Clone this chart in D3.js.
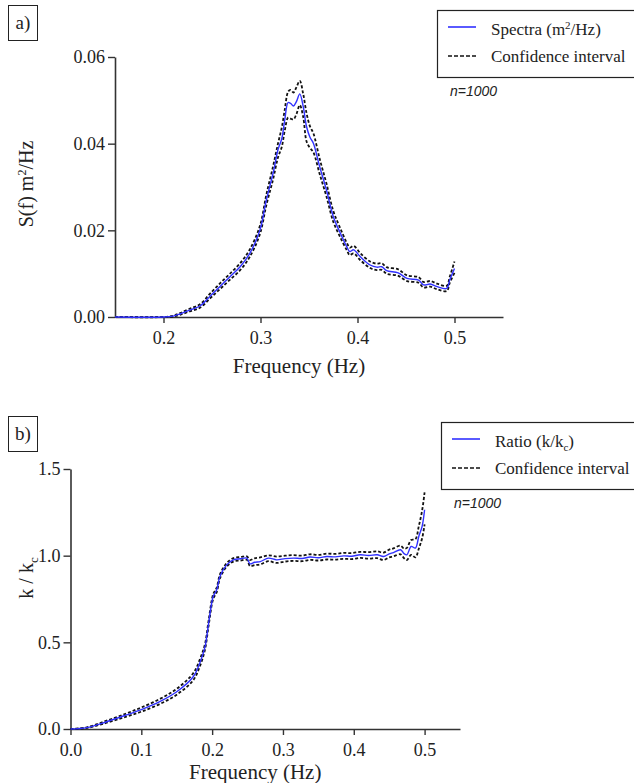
<!DOCTYPE html>
<html>
<head>
<meta charset="utf-8">
<script src="https://cdn.jsdelivr.net/npm/d3@7"></script>
<style>
  body { margin: 0; background: #fff; }
</style>
</head>
<body>
<svg id="chart" width="634" height="783"></svg>
<script>
// panel a - spectrum
var freqA    = [0.150, 0.200, 0.210, 0.217, 0.227, 0.238, 0.248, 0.258, 0.268, 0.279, 0.289, 0.2995, 0.306, 0.313, 0.318, 0.322, 0.325, 0.3285, 0.331, 0.334, 0.337, 0.3405, 0.344, 0.3475, 0.351, 0.3545, 0.361, 0.368, 0.375, 0.382, 0.389, 0.392, 0.396, 0.403, 0.413, 0.420, 0.425, 0.430, 0.442, 0.451, 0.463, 0.468, 0.475, 0.482, 0.492, 0.495, 0.500];
var spectra  = [0, 0, 0.0002, 0.0007, 0.0016, 0.0026, 0.0048, 0.0070, 0.0092, 0.0116, 0.0147, 0.0201, 0.0270, 0.0332, 0.0386, 0.0412, 0.0455, 0.0495, 0.0493, 0.0487, 0.0497, 0.0515, 0.0486, 0.0439, 0.0415, 0.0401, 0.0347, 0.0293, 0.0232, 0.0195, 0.0162, 0.0151, 0.0155, 0.0139, 0.0120, 0.0115, 0.0116, 0.0107, 0.0102, 0.0089, 0.0085, 0.0074, 0.0076, 0.0070, 0.0066, 0.0085, 0.0112];
var spectraLo = [0, 0, 0.0001, 0.0005, 0.0013, 0.0022, 0.0043, 0.0064, 0.0085, 0.0108, 0.0139, 0.0192, 0.0258, 0.0318, 0.0368, 0.0393, 0.0430, 0.0460, 0.0458, 0.0456, 0.0468, 0.0489, 0.0462, 0.0405, 0.0390, 0.0380, 0.0330, 0.0278, 0.0220, 0.0185, 0.0154, 0.0143, 0.0147, 0.0131, 0.0113, 0.0108, 0.0109, 0.0100, 0.0095, 0.0083, 0.0079, 0.0068, 0.0070, 0.0064, 0.0060, 0.0078, 0.0102];
var spectraHi = [0, 0, 0.0003, 0.0009, 0.0019, 0.0030, 0.0054, 0.0077, 0.0099, 0.0124, 0.0156, 0.0211, 0.0282, 0.0348, 0.0400, 0.0438, 0.0478, 0.0520, 0.0524, 0.0518, 0.0530, 0.0545, 0.0515, 0.0470, 0.0440, 0.0424, 0.0365, 0.0308, 0.0245, 0.0206, 0.0171, 0.0160, 0.0164, 0.0147, 0.0128, 0.0123, 0.0124, 0.0115, 0.0110, 0.0096, 0.0092, 0.0081, 0.0083, 0.0077, 0.0072, 0.0092, 0.0128];
var xTicksA = [0.2, 0.3, 0.4, 0.5];
var yTicksA = [0, 0.02, 0.04, 0.06];

// panel b - ratio k/kc
var freqB   = [0.000, 0.023, 0.051, 0.079, 0.100, 0.126, 0.150, 0.173, 0.183, 0.190, 0.195, 0.2015, 0.2065, 0.211, 0.2205, 0.230, 0.240, 0.249, 0.2535, 0.260, 0.268, 0.2795, 0.291, 0.303, 0.315, 0.327, 0.3385, 0.350, 0.362, 0.374, 0.3855, 0.397, 0.409, 0.421, 0.433, 0.442, 0.450, 0.456, 0.466, 0.471, 0.475, 0.481, 0.487, 0.4918, 0.4965, 0.500];
var ratio   = [0.000, 0.008, 0.042, 0.081, 0.112, 0.158, 0.215, 0.300, 0.385, 0.475, 0.610, 0.764, 0.803, 0.880, 0.947, 0.976, 0.982, 0.986, 0.953, 0.962, 0.966, 0.986, 0.976, 0.983, 0.986, 0.984, 0.992, 0.988, 0.995, 0.993, 0.999, 0.997, 1.005, 1.001, 1.005, 0.995, 1.010, 1.018, 1.034, 1.012, 1.005, 1.053, 1.044, 1.111, 1.169, 1.265];
var ratioLo = [0.000, 0.006, 0.036, 0.072, 0.100, 0.144, 0.198, 0.280, 0.365, 0.460, 0.595, 0.750, 0.790, 0.868, 0.937, 0.966, 0.972, 0.976, 0.940, 0.945, 0.950, 0.968, 0.958, 0.966, 0.970, 0.968, 0.976, 0.972, 0.978, 0.977, 0.982, 0.980, 0.987, 0.983, 0.986, 0.975, 0.990, 0.996, 1.008, 0.985, 0.975, 1.005, 0.990, 1.040, 1.100, 1.180];
var ratioHi = [0.000, 0.010, 0.048, 0.090, 0.124, 0.173, 0.232, 0.320, 0.405, 0.492, 0.625, 0.778, 0.816, 0.892, 0.957, 0.986, 0.992, 0.996, 0.975, 0.985, 0.990, 1.002, 0.995, 1.000, 1.003, 1.000, 1.008, 1.004, 1.012, 1.010, 1.016, 1.015, 1.022, 1.020, 1.025, 1.018, 1.035, 1.042, 1.058, 1.040, 1.045, 1.090, 1.095, 1.170, 1.260, 1.365];
var xTicksB = [0, 0.1, 0.2, 0.3, 0.4, 0.5];
var yTicksB = [0, 0.5, 1.0, 1.5];

var svg = d3.select("#chart");
var blue = "#3030ff";
var serif = "'Liberation Serif', Tinos, 'Times New Roman', 'DejaVu Serif', serif";

function drawPanel(opt) {
  var x = d3.scaleLinear().domain(opt.xDomain).range([opt.left, opt.right]);
  var y = d3.scaleLinear().domain(opt.yDomain).range([opt.bottom, opt.top]);

  var g = svg.append("g").attr("font-family", serif).attr("fill", "#222");

  // axes
  var xAxis = g.append("g")
      .attr("transform", "translate(0," + opt.bottom + ")")
      .call(d3.axisBottom(x).tickValues(opt.xTicks).tickFormat(d3.format(opt.xFmt)).tickSize(6).tickSizeOuter(0));
  var yAxis = g.append("g")
      .attr("transform", "translate(" + opt.left + ",0)")
      .call(d3.axisLeft(y).tickValues(opt.yTicks).tickFormat(d3.format(opt.yFmt)).tickSize(7).tickSizeOuter(0));
  [xAxis, yAxis].forEach(function (a) {
    a.attr("font-family", serif).attr("font-size", 18);
    a.select(".domain").attr("stroke", "#333").attr("stroke-width", 1.6);
    a.selectAll(".tick line").attr("stroke", "#333").attr("stroke-width", 1.4);
    a.selectAll(".tick text").attr("fill", "#222");
  });
  xAxis.selectAll(".tick text").attr("dy", "1.0em");

  function line(vals) {
    return d3.line()
      .x(function (d, i) { return x(opt.freq[i]); })
      .y(function (d) { return y(d); })
      .curve(d3.curveCatmullRom)(vals);
  }

  g.append("path").attr("d", line(opt.lo))
    .attr("fill", "none").attr("stroke", "#111").attr("stroke-width", 1.8).attr("stroke-dasharray", "3,2");
  g.append("path").attr("d", line(opt.hi))
    .attr("fill", "none").attr("stroke", "#111").attr("stroke-width", 1.8).attr("stroke-dasharray", "3,2");
  g.append("path").attr("d", line(opt.main))
    .attr("fill", "none").attr("stroke", blue).attr("stroke-width", 1.4);

  // panel letter box
  g.append("rect").attr("x", 8.5).attr("y", opt.boxY + 0.5).attr("width", 29).attr("height", 35)
    .attr("fill", "#fff").attr("stroke", "#222").attr("stroke-width", 1);
  g.append("text").attr("x", 23).attr("y", opt.boxY + 24).attr("text-anchor", "middle")
    .attr("font-size", 19).text(opt.letter);

  // legend
  var ly = opt.legendY;
  g.append("rect").attr("x", opt.legendX + 0.5).attr("y", ly + 0.5).attr("width", 260).attr("height", 67)
    .attr("fill", "#fff").attr("stroke", "#222").attr("stroke-width", 1.2);
  g.append("line").attr("x1", opt.legendX + 11).attr("x2", opt.legendX + 39)
    .attr("y1", ly + 17).attr("y2", ly + 17).attr("stroke", blue).attr("stroke-width", 1.6);
  g.append("line").attr("x1", opt.legendX + 11).attr("x2", opt.legendX + 39)
    .attr("y1", ly + 46).attr("y2", ly + 46).attr("stroke", "#111").attr("stroke-width", 1.4).attr("stroke-dasharray", "4,2");
  var t1 = g.append("text").attr("x", opt.legendX + 54).attr("y", ly + 25).attr("font-size", 17);
  opt.legendLabel(t1);
  g.append("text").attr("x", opt.legendX + 54).attr("y", ly + 52).attr("font-size", 17)
    .text("Confidence interval");

  g.append("text").attr("x", opt.legendX + 13).attr("y", ly + 86)
    .attr("font-family", "'Liberation Sans', Arial, sans-serif").attr("font-style", "italic")
    .attr("font-size", 14).text("n=1000");

  // axis titles
  g.append("text").attr("x", (opt.left + opt.right) / 2 - 10).attr("y", opt.xTitleY)
    .attr("text-anchor", "middle").attr("font-size", 21).text("Frequency (Hz)");
  var yt = g.append("text")
    .attr("transform", "translate(" + opt.yTitleX + "," + opt.yTitleY + ") rotate(-90)")
    .attr("text-anchor", "middle").attr("font-size", 20);
  opt.yLabel(yt);
}

drawPanel({
  freq: freqA, main: spectra, lo: spectraLo, hi: spectraHi,
  xDomain: [0.15, 0.55], yDomain: [0, 0.06],
  left: 115, right: 503, top: 57, bottom: 317,
  xTicks: xTicksA, yTicks: yTicksA, xFmt: ".1f", yFmt: ".2f",
  letter: "a)", boxY: 5,
  legendX: 437, legendY: 10,
  legendLabel: function (t) {
    t.append("tspan").text("Spectra (m");
    t.append("tspan").attr("dy", -6).attr("font-size", 11).text("2");
    t.append("tspan").attr("dy", 6).text("/Hz)");
  },
  xTitleY: 373,
  yTitleX: 33, yTitleY: 184,
  yLabel: function (t) {
    t.append("tspan").text("S(f) m");
    t.append("tspan").attr("dy", -7).attr("font-size", 12).text("2");
    t.append("tspan").attr("dy", 7).text("/Hz");
  }
});

drawPanel({
  freq: freqB, main: ratio, lo: ratioLo, hi: ratioHi,
  xDomain: [0, 0.55], yDomain: [0, 1.5],
  left: 70.5, right: 460, top: 469, bottom: 729,
  xTicks: xTicksB, yTicks: yTicksB, xFmt: ".1f", yFmt: ".1f",
  letter: "b)", boxY: 416,
  legendX: 441, legendY: 422,
  legendLabel: function (t) {
    t.append("tspan").text("Ratio (k/k");
    t.append("tspan").attr("dy", 4).attr("font-size", 11).text("c");
    t.append("tspan").attr("dy", -4).text(")");
  },
  xTitleY: 779,
  yTitleX: 33, yTitleY: 578,
  yLabel: function (t) {
    t.append("tspan").text("k / k");
    t.append("tspan").attr("dy", 5).attr("font-size", 13).text("c");
  }
});
</script>
</body>
</html>
